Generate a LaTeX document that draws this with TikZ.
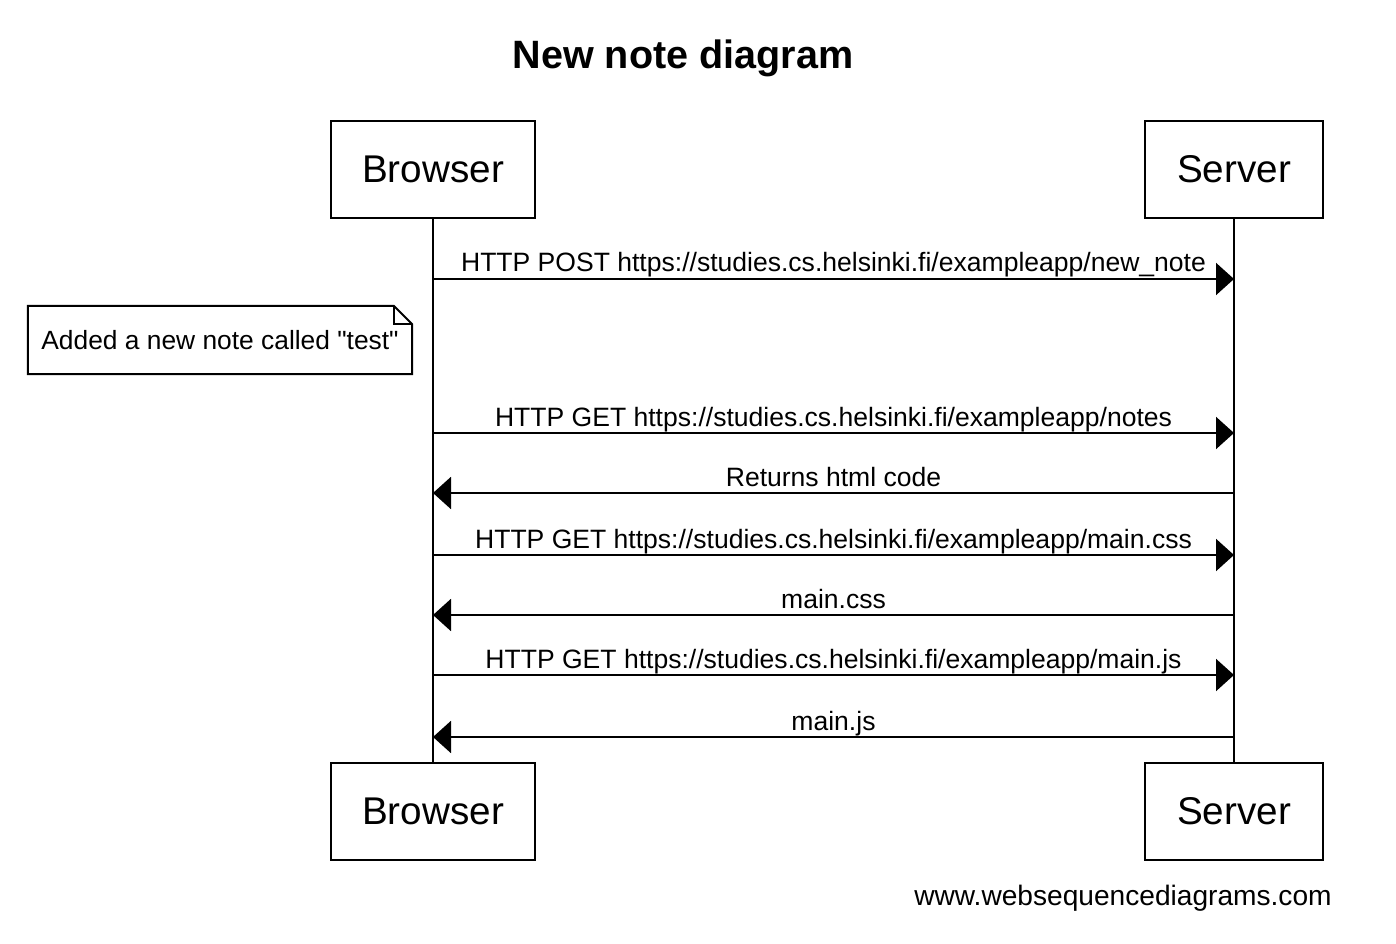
\documentclass[tikz,border=0pt]{standalone}
\usepackage{fontspec}
\setmainfont{Liberation Sans}
\usetikzlibrary{positioning,arrows.meta}

\begin{document}
\begin{tikzpicture}[x=0.2mm,y=-0.2mm,line width=0.4mm,
    actor/.style={draw,minimum height=19.4mm,inner sep=0pt,font=\fontsize{22}{26}\selectfont},
    msg/.style={-{Triangle[length=3.6mm,width=6.4mm]}},
    lbl/.style={anchor=base,yshift=1.4mm,inner sep=0pt,font=\fontsize{15.1}{18}\selectfont}]
  \useasboundingbox (0,0) rectangle (1396,944);
  \node[font=\bfseries\fontsize{22.5}{27}\selectfont](title) at (683,58){New note diagram};
  % participants
  \node[actor,minimum width=40.8mm](browser) at (433,169.5){Browser};
  \node[actor,minimum width=35.6mm](server) at (1234,169.5){Server};
  \node[actor,minimum width=40.8mm](browserEnd) at (433,811.5){Browser};
  \node[actor,minimum width=35.6mm](serverEnd) at (1234,811.5){Server};
  \draw (browser) -- (browserEnd);
  \draw (server) -- (serverEnd);
  % points on the lifelines
  \coordinate (b1) at (433,279);  \coordinate (s1) at (1234,279);
  \coordinate (b2) at (433,433);  \coordinate (s2) at (1234,433);
  \coordinate (b3) at (433,493);  \coordinate (s3) at (1234,493);
  \coordinate (b4) at (433,555);  \coordinate (s4) at (1234,555);
  \coordinate (b5) at (433,615);  \coordinate (s5) at (1234,615);
  \coordinate (b6) at (433,675);  \coordinate (s6) at (1234,675);
  \coordinate (b7) at (433,737);  \coordinate (s7) at (1234,737);
  % messages
  \draw[msg] (b1) -- node[lbl]{HTTP POST https://studies.cs.helsinki.fi/exampleapp/new\_note} (s1);
  \draw[msg] (b2) -- node[lbl]{HTTP GET https://studies.cs.helsinki.fi/exampleapp/notes} (s2);
  \draw[msg] (s3) -- node[lbl]{Returns html code} (b3);
  \draw[msg] (b4) -- node[lbl]{HTTP GET https://studies.cs.helsinki.fi/exampleapp/main.css} (s4);
  \draw[msg] (s5) -- node[lbl]{main.css} (b5);
  \draw[msg] (b6) -- node[lbl]{HTTP GET https://studies.cs.helsinki.fi/exampleapp/main.js} (s6);
  \draw[msg] (s7) -- node[lbl]{main.js} (b7);
  % note
  \node[inner sep=0pt,minimum width=76.4mm,minimum height=13.2mm,font=\fontsize{15}{18}\selectfont](note) at (220,340){Added a new note called \textquotedbl test\textquotedbl};
  \draw (note.north west) -- ([xshift=-3.6mm]note.north east) -- ([yshift=-3.6mm]note.north east)
    -- (note.south east) -- (note.south west) -- cycle;
  \draw ([xshift=-3.6mm]note.north east) |- ([yshift=-3.6mm]note.north east);
  \node[font=\fontsize{16}{19}\selectfont](credit) at (1123,898){www.websequencediagrams.com};
\end{tikzpicture}
\end{document}
